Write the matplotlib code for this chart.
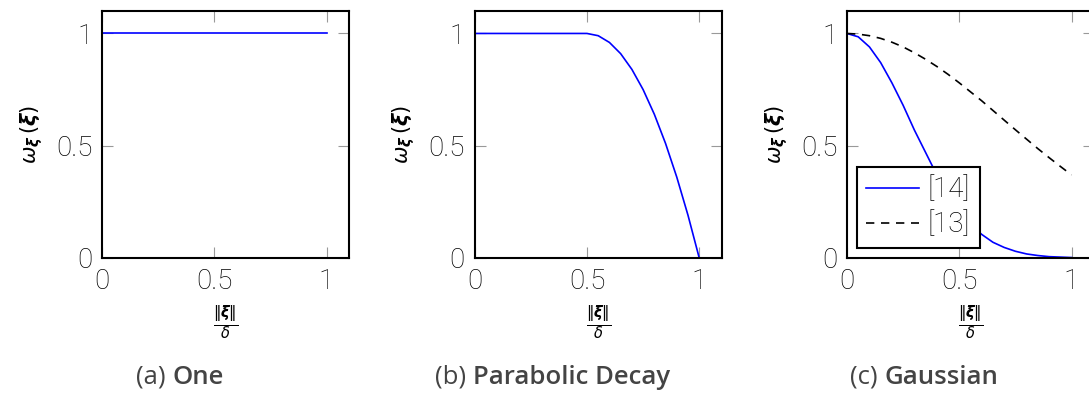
import numpy as np
import matplotlib.pyplot as plt

# values (x = ||xi|| / delta)
x_one = [0.0, 1.0]
w_one = [1.0, 1.0]

x_para = [0.0, 0.5, 0.55, 0.6, 0.65, 0.7, 0.75, 0.8, 0.85, 0.9, 0.95, 1.0]
w_para = [1.0, 1.0, 0.99, 0.96, 0.91, 0.84, 0.75, 0.64, 0.51, 0.36, 0.19, 0.0]

x_gauss = [0.0, 0.05, 0.1, 0.15, 0.2, 0.25, 0.3, 0.35, 0.4, 0.45, 0.5, 0.55,
           0.6, 0.65, 0.7, 0.75, 0.8, 0.85, 0.9, 0.95, 1.0]
w_ref14 = [1.0, 0.985, 0.94, 0.87, 0.78, 0.68, 0.57, 0.47, 0.37, 0.28, 0.21,
           0.15, 0.105, 0.07, 0.047, 0.03, 0.018, 0.011, 0.006, 0.004, 0.002]
w_ref13 = [1.0, 0.997, 0.99, 0.978, 0.961, 0.94, 0.914, 0.885, 0.853, 0.818,
           0.78, 0.74, 0.70, 0.657, 0.614, 0.571, 0.529, 0.487, 0.447, 0.408, 0.37]

ticks = [0, 0.5, 1]
tick_labels = ['0', '0.5', '1']
captions = [('(a) ', 'One'), ('(b) ', 'Parabolic Decay'), ('(c) ', 'Gaussian')]

W, H = 1089, 394
fig = plt.figure(figsize=(W / 100, H / 100), dpi=100)

tick_font = dict(family='Roboto', weight='light', size=20)
lefts = [102, 474.7, 847]
axes = []
for left in lefts:
    ax = fig.add_axes([left / W, (H - 258) / H, 247 / W, 247 / H])
    ax.set_xlim(0, 1.1)
    ax.set_ylim(0, 1.1)
    ax.set_xticks(ticks)
    ax.set_yticks(ticks)
    ax.set_xticklabels(tick_labels, fontdict=tick_font)
    ax.set_yticklabels(tick_labels, fontdict=tick_font)
    ax.tick_params(direction='in', length=8, width=0.8, color='#999999',
                   labelcolor='black', top=True, right=True, pad=7)
    for s in ax.spines.values():
        s.set_linewidth(1.5)
    ax.set_xlabel(r'$\frac{\|\boldsymbol{\xi}\|}{\delta}$', fontsize=15, labelpad=6)
    ax.set_ylabel(r'$\omega_{\boldsymbol{\xi}}\,(\boldsymbol{\xi})$', fontsize=15, labelpad=8)
    axes.append(ax)

axes[0].plot(x_one, w_one, color='blue', lw=1.2)
axes[1].plot(x_para, w_para, color='blue', lw=1.2)
axes[2].plot(x_gauss, w_ref14, color='blue', lw=1.2, label='[14]')
axes[2].plot(x_gauss, w_ref13, color='black', lw=1.2, dashes=(5, 4), label='[13]')
leg = axes[2].legend(loc='lower left', prop=dict(family='Roboto', weight='light', size=20),
                     fancybox=False, framealpha=1, edgecolor='black',
                     handlelength=1.9, handletextpad=0.3, borderaxespad=0.35,
                     borderpad=0.35, labelspacing=0.3)
leg.get_frame().set_linewidth(1.5)

# captions: "(x) " regular + bold name, centred as a whole
renderer = fig.canvas.get_renderer()
for left, (pre, bold) in zip(lefts, captions):
    cx = left + 123.5 - 46
    y = (H - 377) / H
    t1 = fig.text(0, y, pre, ha='left', va='center', fontsize=18.5,
                  family='Open Sans', color='#444444')
    t2 = fig.text(0, y, bold, ha='left', va='center', fontsize=18.5,
                  family='Open Sans', weight='semibold', color='#444444')
    w1 = t1.get_window_extent(renderer).width
    w2 = t2.get_window_extent(renderer).width
    x0 = cx - (w1 + w2) / 2
    t1.set_x(x0 / W)
    t2.set_x((x0 + w1) / W)

fig.savefig('out.png', dpi=100)
